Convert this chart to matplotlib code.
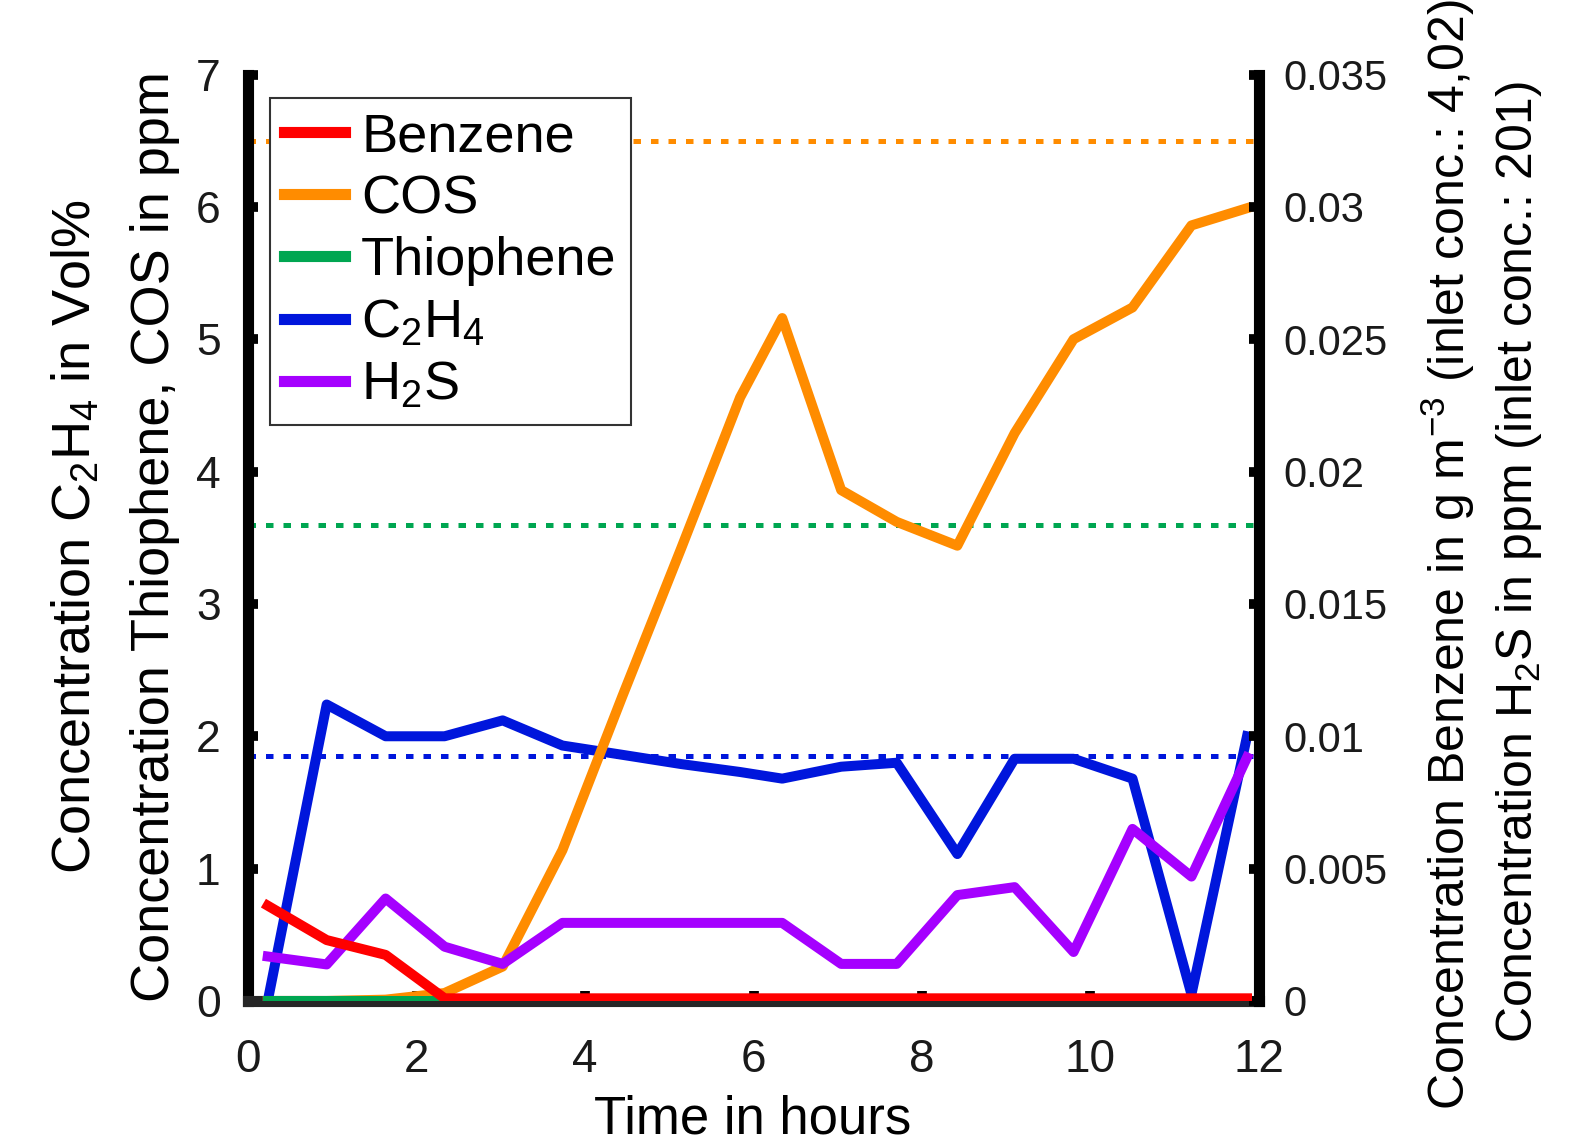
import numpy as np
import matplotlib
matplotlib.use("Agg")
import matplotlib.pyplot as plt

plt.rcParams["font.family"] = ["Liberation Sans", "DejaVu Sans"]
plt.rcParams["mathtext.fontset"] = "custom"
plt.rcParams["mathtext.rm"] = "Liberation Sans"
plt.rcParams["mathtext.it"] = "Liberation Sans:italic"
plt.rcParams["mathtext.bf"] = "Liberation Sans:bold"

# Sampling times (hours)
hours = [0.23, 0.93, 1.63, 2.33, 3.02, 3.73, 4.44, 5.14, 5.84,
         6.34, 7.04, 7.70, 8.42, 9.10, 9.80, 10.50, 11.20, 11.86]

# Left axis: Thiophene / COS in ppm, C2H4 in Vol%
c2h4_vol = [0.0, 2.24, 2.0, 2.0, 2.12, 1.93, 1.86, 1.79, 1.73,
            1.68, 1.77, 1.80, 1.11, 1.83, 1.83, 1.68, 0.05, 2.0]
cos_ppm = [0.0, 0.0, 0.01, 0.06, 0.26, 1.14, 2.30, 3.42, 4.56,
           5.16, 3.86, 3.62, 3.44, 4.29, 5.0, 5.24, 5.86, 5.99]
thiophene_ppm = [0.0, 0.0, 0.0, 0.0, 0.0, 0.0, 0.0, 0.0, 0.0,
                 0.0, 0.0, 0.0, 0.0, 0.0, 0.0, 0.0, 0.0, 0.0]

# Right axis: Benzene in g m^-3, H2S in ppm
benzene_gm3 = [0.0036, 0.0023, 0.00174, 0.0001, 0.0001, 0.0001, 0.0001, 0.0001, 0.0001,
               0.0001, 0.0001, 0.0001, 0.0001, 0.0001, 0.0001, 0.0001, 0.0001, 0.0001]
h2s_ppm = [0.00168, 0.00138, 0.00387, 0.00205, 0.0014, 0.00295, 0.00295, 0.00295, 0.00295,
           0.00295, 0.0014, 0.0014, 0.004, 0.0043, 0.00185, 0.0065, 0.0047, 0.0092]

# Inlet reference levels (left axis)
cos_inlet = 6.5
thiophene_inlet = 3.6
c2h4_inlet = 1.85

x_ticks = [0, 2, 4, 6, 8, 10, 12]
left_ticks = [0, 1, 2, 3, 4, 5, 6, 7]
right_ticks = [0, 0.005, 0.01, 0.015, 0.02, 0.025, 0.03, 0.035]
right_labels = ["0", "0.005", "0.01", "0.015", "0.02", "0.025", "0.03", "0.035"]

RED = "#FF0000"
ORANGE = "#FF8C00"
GREEN = "#00A651"
BLUE = "#0016DC"
PURPLE = "#A500FF"
LW = 7.2
DOT = (0, (1.5, 2.0))

fig = plt.figure(figsize=(15.82, 11.45), dpi=100)
ax = fig.add_axes([0.1570, 0.1258, 0.6387, 0.8091])
ax2 = ax.twinx()

# reference lines
ax.axhline(cos_inlet, color=ORANGE, lw=3.6, ls=DOT, zorder=2)
ax.axhline(thiophene_inlet, color=GREEN, lw=3.6, ls=DOT, zorder=2)
ax.axhline(c2h4_inlet, color=BLUE, lw=3.6, ls=DOT, zorder=2)

l_c2h4, = ax.plot(hours, c2h4_vol, color=BLUE, lw=LW, zorder=3, label="C$_2$H$_4$")
l_cos, = ax.plot(hours, cos_ppm, color=ORANGE, lw=LW, zorder=3, label="COS")
l_thio, = ax.plot(hours, thiophene_ppm, color=GREEN, lw=LW, zorder=3, label="Thiophene")

l_h2s, = ax2.plot(hours, h2s_ppm, color=PURPLE, lw=LW, label="H$_2$S")
l_benz, = ax2.plot(hours, benzene_gm3, color=RED, lw=LW, label="Benzene")

ax.set_xlim(0, 12)
ax.set_ylim(0, 7)
ax2.set_ylim(0, 0.035)
ax.set_xticks(x_ticks)
ax.set_yticks(left_ticks)
ax2.set_yticks(right_ticks)
ax2.set_yticklabels(right_labels)

# spines
for s in ["top", "right"]:
    ax.spines[s].set_visible(False)
for s in ["top", "left", "bottom"]:
    ax2.spines[s].set_visible(False)
ax.spines["left"].set_linewidth(8)
ax.spines["left"].set_color("black")
ax.spines["bottom"].set_linewidth(8)
ax.spines["bottom"].set_color("#262626")
ax2.spines["right"].set_linewidth(8)
ax2.spines["right"].set_color("black")

ax.tick_params(axis="y", direction="in", length=7, width=7, color="black",
               labelsize=32, pad=20, labelcolor="#1a1a1a")
ax.tick_params(axis="x", direction="in", length=7, width=7, color="black",
               labelsize=33, pad=27, labelcolor="#1a1a1a")
ax2.tick_params(axis="y", direction="in", length=7, width=7, color="black",
                labelsize=30, pad=18, labelcolor="#1a1a1a")

# axis labels
fig.text(90.8 / 1582, 1 - 537 / 1145, "Concentration C$_2$H$_4$ in Vol%",
         rotation=90, rotation_mode="anchor", ha="center", va="baseline", fontsize=39)
fig.text(169.5 / 1582, 1 - 537 / 1145, "Concentration Thiophene, COS in ppm",
         rotation=90, rotation_mode="anchor", ha="center", va="baseline", fontsize=39)
fig.text(1465 / 1582, 1 - 555 / 1145,
         "Concentration Benzene in g m$^{-3}$ (inlet conc.: 4,02)",
         rotation=90, rotation_mode="anchor", ha="center", va="baseline", fontsize=36)
fig.text(1532 / 1582, 1 - 562 / 1145,
         "Concentration H$_2$S in ppm (inlet conc.: 201)",
         rotation=90, rotation_mode="anchor", ha="center", va="baseline", fontsize=36)
fig.text(753 / 1582, 12 / 1145, "Time in hours", ha="center", va="baseline", fontsize=38)

# legend
leg = ax2.legend(handles=[l_benz, l_cos, l_thio, l_c2h4, l_h2s],
                 loc="upper left", bbox_to_anchor=(0.021, 0.975), borderaxespad=0,
                 fontsize=39, frameon=True, fancybox=False, framealpha=1,
                 edgecolor="#333333", borderpad=0.27, handlelength=1.12,
                 handletextpad=0.3, labelspacing=0.22)
leg.get_frame().set_linewidth(1.5)
for h in leg.get_lines():
    h.set_linewidth(8)

fig.savefig("out.png", dpi=100)
